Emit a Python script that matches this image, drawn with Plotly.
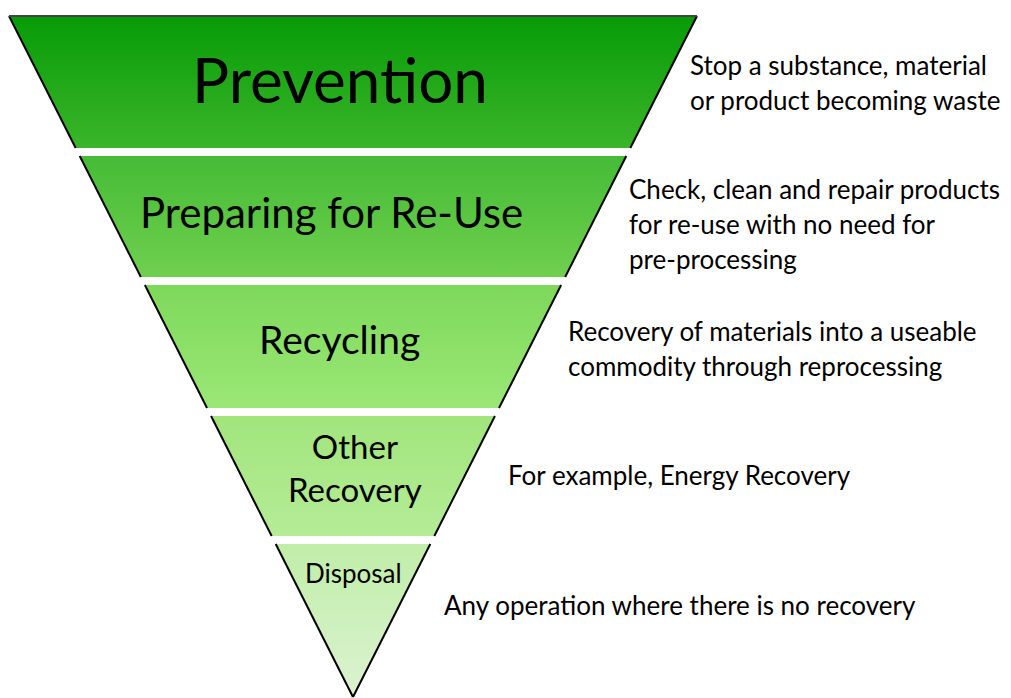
import plotly.graph_objects as go

levels = ["Prevention", "Preparing for Re-Use", "Recycling", "Other<br>Recovery", "Disposal"]
descriptions = [
    ["Stop a substance, material", "or product becoming waste"],
    ["Check, clean and repair products", "for re-use with no need for", "pre-processing"],
    ["Recovery of materials into a useable", "commodity through reprocessing"],
    ["For example, Energy Recovery"],
    ["Any operation where there is no recovery"],
]
top_colors = ["#069c06", "#45bb36", "#7dd95a", "#a1e57c", "#c0eda8"]
bottom_colors = ["#3bb52a", "#6fd04e", "#9be776", "#b5ec97", "#dcf3d2"]

# geometry (screen pixel space)
band_tops = [16, 156, 285, 416, 544]
band_bottoms = [148, 277, 408, 536, 697]
apex_x, apex_y = 353, 697
top_half = 344
slope = top_half / (apex_y - 16)

label_x = [340, 331, 339, 355, 353]
label_y = [79, 212, 339, 467, 573]
label_size = [62, 42, 39, 33, 26]
desc_x = [688, 627, 566, 506, 442]
desc_y0 = [65, 189, 331, 475, 605]
line_gap = 35
desc_size = 26

FONT = "Lato"
OFF = 8  # default body margin of the page

def half(y):
    return slope * (apex_y - y)

fig = go.Figure()
for i in range(len(levels)):
    yt, yb = band_tops[i], band_bottoms[i]
    ht, hb = half(yt), half(yb)
    xs = [apex_x - ht, apex_x + ht, apex_x + hb, apex_x - hb, apex_x - ht]
    ys = [yt, yt, yb, yb, yt]
    fig.add_trace(go.Scatter(
        x=xs, y=ys, mode="lines", fill="toself", line=dict(width=0),
        fillgradient=dict(type="vertical", start=yt, stop=yb,
                          colorscale=[[0, top_colors[i]], [1, bottom_colors[i]]]),
        hoverinfo="skip", showlegend=False))
    fig.add_trace(go.Scatter(x=[apex_x - ht, apex_x - hb], y=[yt, yb], mode="lines",
                             line=dict(color="black", width=2), hoverinfo="skip", showlegend=False))
    fig.add_trace(go.Scatter(x=[apex_x + ht, apex_x + hb], y=[yt, yb], mode="lines",
                             line=dict(color="black", width=2), hoverinfo="skip", showlegend=False))
    fig.add_annotation(x=label_x[i], y=label_y[i], text=levels[i], showarrow=False,
                       xanchor="center", yanchor="middle",
                       font=dict(family=FONT, size=label_size[i], color="black"))
    for j, line in enumerate(descriptions[i]):
        fig.add_annotation(x=desc_x[i], y=desc_y0[i] + j * line_gap, text=line, showarrow=False,
                           xanchor="left", yanchor="middle",
                           font=dict(family=FONT, size=desc_size, color="black"))

ht0 = half(band_tops[0])
fig.add_trace(go.Scatter(x=[apex_x - ht0, apex_x + ht0], y=[band_tops[0], band_tops[0]], mode="lines",
                         line=dict(color="#444444", width=2), hoverinfo="skip", showlegend=False))

fig.update_layout(
    width=1011 - OFF, height=698 - OFF, margin=dict(l=0, r=0, t=0, b=0),
    paper_bgcolor="white", plot_bgcolor="white",
    xaxis=dict(range=[OFF, 1011], visible=False, fixedrange=True),
    yaxis=dict(range=[698, OFF], visible=False, fixedrange=True),
)
fig.write_html("out.html")
